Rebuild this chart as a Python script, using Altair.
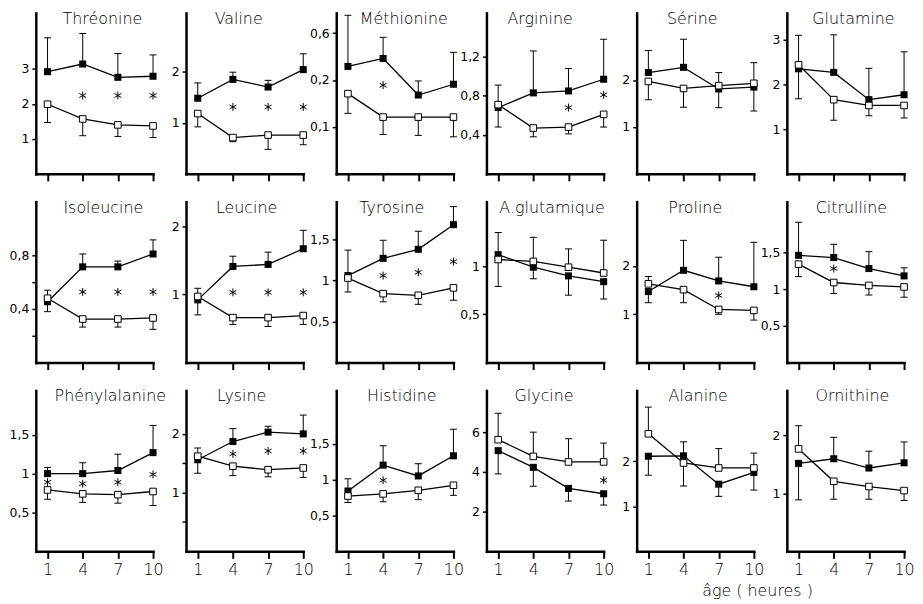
import altair as alt
import pandas as pd

PANELS = ["Thréonine", "Valine", "Méthionine", "Arginine", "Sérine", "Glutamine",
          "Isoleucine", "Leucine", "Tyrosine", "A.glutamique", "Proline", "Citrulline",
          "Phénylalanine", "Lysine", "Histidine", "Glycine", "Alanine", "Ornithine"]
HOURS = [1, 4, 7, 10]

FILLED = [
    [2.92, 3.14, 2.76, 2.79], [1.48, 1.85, 1.70, 2.04], [0.229, 0.246, 0.168, 0.191],
    [0.68, 0.83, 0.85, 0.97], [2.16, 2.27, 1.81, 1.85], [2.35, 2.27, 1.66, 1.77],
    [0.454, 0.714, 0.714, 0.81], [0.92, 1.41, 1.44, 1.67], [1.06, 1.27, 1.38, 1.68],
    [1.12, 0.99, 0.90, 0.84], [1.47, 1.91, 1.69, 1.57], [1.46, 1.43, 1.28, 1.18],
    [1.0, 1.0, 1.04, 1.27], [1.56, 1.87, 2.03, 2.0], [0.84, 1.2, 1.05, 1.33],
    [5.07, 4.23, 3.17, 2.9], [2.11, 2.12, 1.49, 1.75], [1.52, 1.60, 1.44, 1.53],
]
FILLED_ERR = [
    [3.89, 4.01, 3.44, 3.40], [1.78, 1.99, 1.83, 2.35], [0.338, 0.291, 0.198, 0.259],
    [0.91, 1.26, 1.08, 1.38], [2.63, 2.87, 2.16, 2.37], [3.10, 3.11, 2.36, 2.73],
    [0.54, 0.81, 0.757, 0.915], [1.09, 1.56, 1.62, 1.94], [1.37, 1.49, 1.60, 1.90],
    [1.35, 0.87, 0.70, 0.66], [1.24, 2.53, 2.18, 2.49], [1.91, 1.61, 1.51, 1.29],
    [1.08, 1.14, 1.25, 1.62], [1.76, 2.09, 2.13, 2.32], [1.01, 1.47, 1.22, 1.70],
    [3.9, 3.28, 2.53, 2.33], [1.69, 2.43, 1.22, 1.36], [0.89, 1.97, 1.73, 1.89],
]
OPEN = [
    [1.99, 1.57, 1.40, 1.37], [1.18, 0.71, 0.76, 0.76], [0.171, 0.121, 0.121, 0.121],
    [0.71, 0.47, 0.48, 0.61], [1.97, 1.82, 1.88, 1.93], [2.44, 1.66, 1.53, 1.53],
    [0.48, 0.325, 0.325, 0.333], [0.97, 0.66, 0.66, 0.69], [1.03, 0.84, 0.82, 0.91],
    [1.07, 1.05, 0.99, 0.93], [1.63, 1.51, 1.10, 1.08], [1.34, 1.09, 1.05, 1.03],
    [0.79, 0.74, 0.73, 0.77], [1.62, 1.45, 1.39, 1.42], [0.77, 0.80, 0.85, 0.92],
    [5.62, 4.78, 4.5, 4.5], [2.61, 1.96, 1.85, 1.85], [1.77, 1.21, 1.12, 1.05],
]
OPEN_ERR = [
    [1.47, 1.09, 1.07, 1.04], [0.92, 0.63, 0.48, 0.57], [0.129, 0.084, 0.082, 0.079],
    [0.48, 0.38, 0.41, 0.48], [1.58, 1.42, 1.41, 1.34], [1.68, 1.20, 1.30, 1.25],
    [0.38, 0.265, 0.265, 0.248], [0.70, 0.56, 0.53, 0.56], [0.86, 0.74, 0.71, 0.76],
    [0.79, 1.30, 1.18, 1.27], [1.78, 1.24, 1.0, 0.88], [1.17, 0.94, 0.92, 0.89],
    [0.67, 0.63, 0.62, 0.59], [1.33, 1.29, 1.27, 1.26], [0.68, 0.69, 0.72, 0.78],
    [6.95, 6.0, 5.67, 5.45], [3.2, 1.45, 2.28, 2.18], [2.17, 0.9, 0.9, 0.88],
]
STAR_X = [[4, 7, 10], [4, 7, 10], [4], [7, 10], [], [],
          [4, 7, 10], [4, 7, 10], [4, 7, 10], [], [7], [4],
          [1, 4, 7, 10], [4, 7, 10], [4], [10], [], []]
STAR_Y = [[2.24, 2.24, 2.24], [1.31, 1.31, 1.31], [0.189], [0.68, 0.81], [], [],
          [0.527, 0.527, 0.527], [1.03, 1.03, 1.03], [1.06, 1.10, 1.23], [], [1.39], [1.28],
          [0.89, 0.87, 0.89, 0.99], [1.66, 1.71, 1.71], [0.99], [3.58], [], []]
Y_MAX = [4.6, 3.15, 0.343, 1.65, 3.43, 3.6,
         1.2, 2.36, 1.96, 1.67, 3.33, 2.19,
         2.07, 2.74, 2.24, 8.1, 3.57, 2.78]
Y_TICKS = [[1, 2, 3], [1, 2], [0.1, 0.2, 0.3], [0.4, 0.8, 1.2], [1, 2], [1, 2, 3],
           [0.2, 0.4, 0.6, 0.8], [1, 2], [0.5, 1, 1.5], [0.5, 1], [1, 2], [0.5, 1, 1.5],
           [0.5, 1, 1.5], [0.5, 1, 1.5, 2], [0.5, 1, 1.5], [2, 4, 6], [1, 2], [1, 2]]
Y_LABELS = [["1", "2", "3"], ["1", "2"], ["0,1", "0,2", "0,6"], ["0,4", "0,8", "1,2"],
            ["1", "2"], ["1", "2", "3"],
            ["", "0,4", "", "0,8"], ["1", "2"], ["0,5", "1", "1,5"], ["0,5", "1"],
            ["1", "2"], ["0,5", "1", "1,5"],
            ["0,5", "1", "1,5"], ["", "1", "", "2"], ["0,5", "1", "1,5"], ["2", "4", "6"],
            ["1", "2"], ["1", "2"]]
X_TITLE = "âge  ( heures )"

# layout (not data)
TITLE_DX = [8, -6, 9, -5, -3, 8,
            9, 2, -3, 7, 0, 6,
            16, -3, 7, -1, 3, 7]
W, H = 118, 162
FONT = "DejaVu Sans"
STAR = "M0,-1L0,1M-0.87,-0.5L0.87,0.5M-0.87,0.5L0.87,-0.5"
CAP = "M-1,0L1,0"


def label_expr(ticks, labels):
    parts = ["abs(datum.value - %s) < 1e-6 ? '%s' : " % (t, l) for t, l in zip(ticks, labels)]
    return "".join(parts) + "''"


def panel(i):
    rows = []
    for s, vals, errs in (("f", FILLED[i], FILLED_ERR[i]), ("o", OPEN[i], OPEN_ERR[i])):
        for h, v, e in zip(HOURS, vals, errs):
            rows.append({"h": h, "v": v, "e": e, "s": s})
    df = pd.DataFrame(rows)
    bottom = i >= 12

    xkw = dict(values=HOURS, labels=bottom, domainColor="black", domainWidth=2.5,
               domainCap="square", tickColor="black", tickWidth=2, tickSize=7,
               labelFontSize=16, labelFont=FONT, labelFontWeight=200, labelColor="black",
               labelPadding=3, labelFlush=False, labelOverlap=False, grid=False, format="d")
    if i == 17:
        xkw.update(titleX=-30, titleY=44, titleAlign="center", titleBaseline="alphabetic",
                   titleFont=FONT, titleFontSize=16, titleFontWeight=200,
                   titleColor="black")
    xaxis = alt.Axis(**xkw)
    yaxis = alt.Axis(values=Y_TICKS[i], labelExpr=label_expr(Y_TICKS[i], Y_LABELS[i]),
                     domainColor="black", domainWidth=2.5, domainCap="square",
                     tickColor="black", tickWidth=1.5, tickSize=4,
                     labelFontSize=12.5, labelFont=FONT, labelColor="black", labelPadding=3,
                     minExtent=26, maxExtent=26, grid=False, labelFlush=False,
                     labelOverlap=False)
    xscale = alt.Scale(domain=[0, 10], nice=False, zero=False)
    yscale = alt.Scale(domain=[0, Y_MAX[i]], nice=False)
    X = alt.X("h:Q", scale=xscale, axis=xaxis, title=(X_TITLE if i == 17 else None))
    Y = alt.Y("v:Q", scale=yscale, axis=yaxis, title=None)

    base = alt.Chart(df).encode(x=X, y=Y)
    lines = base.mark_line(color="black", strokeWidth=1.3).encode(detail="s:N")
    rules = base.mark_rule(color="black", strokeWidth=1).encode(y2="e:Q")
    caps = base.mark_point(shape=CAP, size=49, filled=False, color="black",
                           strokeWidth=1, opacity=1).encode(
        y=alt.Y("e:Q", scale=yscale, axis=yaxis, title=None))
    filled = base.transform_filter("datum.s == 'f'").mark_square(
        size=50, color="black", filled=True, opacity=1)
    opened = base.transform_filter("datum.s == 'o'").mark_square(
        size=44, fill="white", stroke="black", strokeWidth=1, filled=True, opacity=1)
    layers = [lines, rules, caps, filled, opened]
    if STAR_X[i]:
        stars = pd.DataFrame({"h": STAR_X[i], "v": STAR_Y[i]})
        layers.append(alt.Chart(stars).mark_point(
            shape=STAR, size=64, filled=False, color="black", strokeWidth=1,
            opacity=1).encode(x=X, y=Y))
    return alt.layer(*layers).properties(
        width=W, height=H,
        title=alt.TitleParams(text=PANELS[i], font=FONT, fontSize=16, fontWeight=200,
                              color="black", anchor="middle", baseline="alphabetic",
                              offset=-27, dx=TITLE_DX[i]))


chart = alt.concat(*[panel(i) for i in range(18)], columns=6,
                   spacing={"row": 28, "column": 33.2}, bounds="flush").properties(
    padding={"left": 0, "top": 0, "right": 0, "bottom": 0}
).configure_view(stroke="transparent")

chart.save("out.html", embed_options={"renderer": "svg", "actions": False})
